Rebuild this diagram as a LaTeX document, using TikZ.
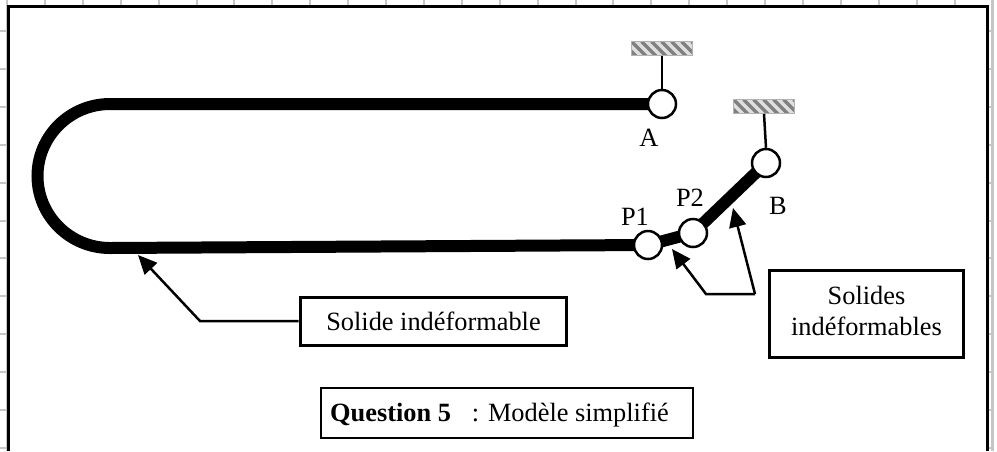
\documentclass[tikz,border=0pt]{standalone}
\usepackage{fontspec}
\setmainfont{Liberation Serif}
\usetikzlibrary{arrows.meta,backgrounds,positioning}
\begin{document}
\begin{tikzpicture}[x=0.02cm,y=-0.02cm]
      \tikzstyle{rectblock}=[rectangle, draw, line width=0.06cm, fill=white, align=center, font=\fontsize{15}{18}\selectfont]
      \tikzstyle{pivot}=[circle, draw, line width=0.05cm, fill=white, minimum size=0.56cm, inner sep=0pt]
      \tikzstyle{support}=[rectangle, draw=gray!60, fill=gray!25, minimum width=1.22cm, minimum height=0.28cm, inner sep=0pt,
        path picture={\foreach \k in {-1,...,6} \draw[line width=0.07cm, black!50] ([xshift=\k*0.2cm]path picture bounding box.north west) -- ++(0.34cm,-0.34cm);}]
      \tikzstyle{pointer}=[line width=0.05cm, -{Triangle[length=0.38cm,width=0.34cm]}]
      \tikzstyle{beam}=[line width=0.24cm]
      \tikzstyle{tag}=[inner sep=0pt, font=\fontsize{15}{18}\selectfont]
      \useasboundingbox (0,0) rectangle (997,451);
      % sheet grid
      \foreach \i in {0,...,25} \draw[gray!45, line width=0.04cm] (7+37.9*\i,0) -- (7+37.9*\i,5);
      \foreach \j in {0,...,11} {
        \draw[gray!45, line width=0.04cm] (0,31+37.9*\j) -- (7,31+37.9*\j);
        \draw[gray!45, line width=0.04cm] (988,31+37.9*\j) -- (992,31+37.9*\j);
      }
      \draw[gray!45, line width=0.04cm] (7,5) -- (7,451);
      \draw[gray!45, line width=0.06cm] (992,0) -- (992,451);
      \draw[line width=0.05cm] (8.5,451) -- (8.5,6.5) -- (987.5,6.5) -- (987.5,451);
      % fixed points
      \node[support] (SA) at (662,48.5) {};
      \node[support] (SB) at (764,106.5) {};
      \node[pivot] (A) at (662,104) {};
      \node[pivot] (B) at (766,163) {};
      \node[pivot] (P1) at (648,245) {};
      \node[pivot] (P2) at (693,233) {};
      \coordinate (Ttop) at (110,104);
      \coordinate (Tbot) at (110,248);
      % solids
      \begin{scope}[on background layer]
        \draw[beam] (A.center) -- (Ttop) arc[start angle=90, end angle=270, x radius=72.5, y radius=-72];
        \draw[beam] (Tbot) -- (P1.center);
        \draw[beam] (P1.center) -- (P2.center);
        \draw[beam] (P2.center) -- (B.center);
      \end{scope}
      \draw[line width=0.05cm] (SA.south) -- (A.north);
      \draw[line width=0.05cm] (SB.south) -- (B.north);
      % labels
      \node[tag] (LA) at (649,138) {A};
      \node[tag] (LB) at (778,206) {B};
      \node[tag] (LP1) at (635,217) {P1};
      \node[tag] (LP2) at (690,198) {P2};
      \node[rectblock, minimum width=5.34cm, minimum height=0.96cm] (S1) at (433.5,321) {Solide indéformable};
      \node[rectblock, minimum width=3.9cm, minimum height=1.74cm] (S2) at (866.5,313.5) {Solides\\indéformables\rule[-0.1cm]{0pt}{0.1cm}};
      \node[rectblock, line width=0.05cm, minimum width=7.44cm, minimum height=1cm] (Q5) at (507,413) {\rule{0pt}{0.45cm}\textbf{Question 5}\hspace{0.42cm}: Modèle simplifié\hspace{0.3cm}};
      % pointers
      \coordinate (K1) at (200,321);
      \coordinate (T1) at (138,255);
      \coordinate (K2) at (755,294);
      \coordinate (K3) at (706,294);
      \coordinate (T2) at (672,249);
      \coordinate (T3) at (733,208);
      \draw[pointer] (S1.west) -- (K1) -- (T1);
      \draw[pointer] (K2) -- (K3) -- (T2);
      \draw[pointer] (K2) -- (T3);
    \end{tikzpicture}
\end{document}
